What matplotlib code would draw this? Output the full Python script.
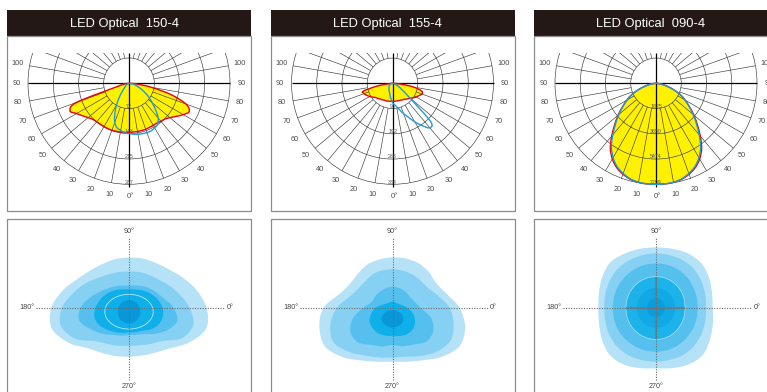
import numpy as np
import matplotlib
matplotlib.use("Agg")
import matplotlib.pyplot as plt
from matplotlib.path import Path
from matplotlib.patches import PathPatch, Rectangle, Circle
from matplotlib.collections import LineCollection

plt.rcParams['font.family'] = ['Liberation Sans', 'DejaVu Sans']

# ---------------- data ----------------
titles = ['LED Optical  150-4', 'LED Optical  155-4', 'LED Optical  090-4']

# vertical angle gamma (deg); negative = C180 / C270 side (left), positive = C0 / C90 side (right)
gamma = [-90, -85, -80, -75, -70, -65, -60, -55, -50, -45, -40, -35, -30, -25, -20, -15, -10, -5,
         0, 5, 10, 15, 20, 25, 30, 35, 40, 45, 50, 55, 60, 65, 70, 75, 80, 85, 90]

ring_values = [[72, 143, 215, 287], [96, 192, 288, 384], [1825, 3650, 5474, 7299]]
angle_labels = [10, 20, 30, 40, 50, 60, 70, 80, 90, 100]

# luminous intensity (cd), C0-180 plane (red, filled) and C90-270 plane (blue)
red_150 = [0, 9, 17, 32, 158, 185, 172, 161, 152, 145, 143, 142, 142, 142, 142, 141, 141, 140,
           139, 139, 139, 139, 139, 138, 138, 138, 141, 144, 152, 164, 178, 189, 172, 123, 63, 23, 0]
blue_150 = [0, 0, 1, 3, 4, 6, 7, 10, 13, 19, 29, 47, 70, 95, 118, 131, 136, 141,
            143, 145, 147, 148, 149, 149, 146, 142, 129, 107, 86, 69, 52, 37, 26, 17, 11, 6, 0]
red_155 = [0, 8, 58, 115, 115, 108, 100, 92, 84, 81, 77, 75, 73, 71, 71, 70, 69, 69,
           69, 69, 69, 69, 70, 71, 73, 75, 79, 83, 88, 96, 104, 111, 119, 115, 81, 31, 0]
blue_155 = [0, 2, 4, 6, 8, 10, 12, 15, 17, 19, 21, 23, 27, 31, 35, 40, 50, 61,
            73, 81, 90, 104, 123, 142, 169, 196, 221, 204, 84, 46, 31, 17, 10, 6, 3, 2, 0]
red_090 = [0, 183, 440, 840, 1355, 1940, 2420, 2950, 3570, 4220, 4980, 5750, 6310, 6720, 6990, 7180, 7270, 7299,
           7299, 7299, 7270, 7180, 6990, 6720, 6310, 5750, 4980, 4220, 3570, 2950, 2420, 1940, 1355, 840, 440, 183, 0]
blue_090 = [0, 182, 438, 839, 1350, 1934, 2409, 2920, 3504, 4124, 4854, 5620, 6204, 6642, 6934, 7153, 7263, 7299,
            7299, 7299, 7263, 7153, 6934, 6642, 6204, 5620, 4854, 4124, 3504, 2920, 2409, 1934, 1350, 839, 438, 182, 0]

# isolux outlines: radius at each direction (deg, 0 = right, 90 = up)
iso_angles = [0, 15, 30, 45, 60, 75, 90, 105, 120, 135, 150, 165,
              180, 195, 210, 225, 240, 255, 270, 285, 300, 315, 330, 345]

iso_150 = [
    [77.5, 69.6, 61.2, 54.9, 52, 51, 50, 50.5, 51, 53.4, 58.6, 68.1, 77.7, 80, 70, 57.6, 52.5, 50, 49, 49.5, 52, 57.5, 69.5, 80],
    [60.5, 52, 45.4, 40.5, 38.3, 37, 36, 37, 38.8, 42.5, 49.5, 57.5, 67, 70.5, 62, 47.3, 42, 39.5, 38, 39, 42, 47, 61, 66.5],
    [44.5, 36, 31, 28, 25, 23, 22, 23, 25, 27.8, 32.5, 40, 48.5, 51.3, 43.5, 37, 31.5, 29, 27.3, 28.2, 30.5, 37, 44.5, 50],
    [33.5, 30.2, 26.5, 23.3, 20.5, 19, 18.3, 19, 21, 23.5, 26.7, 30, 33.5, 35.8, 34.5, 31, 28.2, 26, 24.7, 25.3, 26.5, 30.7, 34, 35],
    [11.2, 11.3, 11.4, 11.5, 11.6, 11.6, 11.6, 11.6, 11.6, 11.5, 11.4, 11.3, 11.2, 11.3, 11.5, 11.6, 11.7, 11.8, 11.8, 11.8, 11.7, 11.6, 11.5, 11.3],
]
iso_150_line = [24.2, 23.5, 21.7, 19.9, 18.5, 17.6, 17.3, 17.6, 18.5, 19.9, 21.7, 23.5,
                24.2, 23.5, 21.7, 19.9, 18.5, 17.6, 17.3, 17.6, 18.5, 19.9, 21.7, 23.5]

iso_155 = [
    [67, 55.5, 50, 51, 51.5, 51, 50.3, 50, 50, 48.5, 48.7, 54.4, 69, 75.7, 77.8, 70, 61, 56, 54, 56, 60.7, 69.5, 77.3, 75.2],
    [57, 47, 40.3, 39, 38.6, 38.4, 38.3, 38.6, 38.8, 38, 39, 44, 55.6, 64.2, 68.5, 62.2, 55.2, 51.5, 49.7, 50.7, 55.8, 62.2, 66.7, 63.2],
    [28, 23, 20.6, 20.4, 20.5, 20.8, 21, 20.7, 20.4, 20.3, 20.8, 21.6, 29, 41, 48.4, 48.9, 42.9, 40, 37.3, 39.9, 42.5, 47.9, 47, 40],
    [14.7, 9.7, 7.4, 6.5, 6.1, 6.0, 6.0, 6.0, 6.1, 6.5, 7.9, 11, 17, 21.9, 26.6, 28.5, 29.4, 28.8, 28.3, 29.3, 30.2, 29.4, 26.1, 21.1],
    [10.8, 10.6, 10.1, 9.6, 9.1, 8.8, 8.7, 8.8, 9.1, 9.6, 10.1, 10.6, 10.8, 10.6, 10.1, 9.6, 9.1, 8.8, 8.9, 8.8, 9.1, 9.6, 10.1, 10.6],
]

iso_090 = [
    [56.7, 58, 61, 63.5, 63, 61, 60.3, 61, 62.5, 64.4, 62, 59, 57.7, 59, 62.5, 66, 65.5, 62.5, 60.7, 62.5, 65.5, 66.5, 62.5, 59],
    [50, 51, 52.5, 54, 54.5, 54.3, 54.3, 54.3, 54.5, 54.5, 53.5, 52.5, 51.7, 52.5, 54, 55, 55, 54.3, 54, 54, 54.5, 54, 52.5, 51],
    [41.7, 42, 42.5, 43.5, 44, 44.3, 44.3, 44.3, 44, 43.8, 43.5, 43.3, 43.3, 43.5, 43.8, 44, 44, 44, 44, 44, 43.5, 43, 42.5, 42],
    [29, 29.3, 29.8, 30.3, 30.7, 31, 31, 31, 30.8, 30.5, 30.3, 30.1, 30, 30.3, 30.7, 31, 31.3, 31.6, 31.7, 31.6, 31.2, 30.5, 29.8, 29.3],
    [19, 19, 19.2, 19.4, 19.6, 19.8, 19.8, 19.8, 19.6, 19.4, 19.2, 19, 19, 19.2, 19.4, 19.6, 19.8, 20, 20, 20, 19.8, 19.5, 19.2, 19],
    [9, 9, 9, 9.2, 9.3, 9.4, 9.4, 9.4, 9.3, 9.2, 9, 9, 9, 9, 9.2, 9.3, 9.4, 9.5, 9.5, 9.5, 9.4, 9.2, 9, 9],
]

# ---------------- styles / layout ----------------
W, H = 767, 392
panel_x0 = [7, 270.5, 534]
panel_w = 244
head_top, head_bot, upper_bot, lower_top = 10, 36, 211, 219
polar_cy = 83.3
R_px = 101
iso_cy = 307.7
clip_top_frac = 0.30
grid_step = 10

iso_colors_150 = ['#b5e2f7', '#86d0f3', '#55c0ee', '#0fb0ea', '#0a97da']
iso_colors_155 = ['#b5e2f7', '#86d0f3', '#55c0ee', '#0fb0ea', '#0a97da']
iso_colors_090 = ['#b5e2f7', '#86d0f3', '#55c0ee', '#1cb2ea', '#10a9e6', '#069edf']
iso_yoff_150 = [0, 0, 0, 0, -4]
iso_yoff_155 = [0, 0, 0, 0, -11]
iso_yoff_090 = [0, 0, 0, 0, 0, 0]

YELLOW = '#fff100'
RED = '#e60012'
BLUE = '#1c9cdb'
GRID = '#3a3a3a'
BOX = '#8c8c8c'
HEAD = '#231815'

fig = plt.figure(figsize=(W / 100, H / 100), dpi=100)
fig.patch.set_facecolor('white')


def px_axes(x0, y0, x1, y1):
    ax = fig.add_axes([x0 / W, 1 - y1 / H, (x1 - x0) / W, (y1 - y0) / H])
    ax.set_axis_off()
    ax.patch.set_visible(False)
    return ax


def smooth_path(P, closed):
    P = np.asarray(P, float)
    n = len(P)
    verts = [P[0]]
    codes = [Path.MOVETO]
    segs = n if closed else n - 1
    for i in range(segs):
        if closed:
            p0, p1, p2, p3 = P[i - 1], P[i], P[(i + 1) % n], P[(i + 2) % n]
        else:
            p0, p1, p2, p3 = P[max(i - 1, 0)], P[i], P[i + 1], P[min(i + 2, n - 1)]
        verts += [p1 + (p2 - p0) / 6.0, p2 - (p3 - p1) / 6.0, p2]
        codes += [Path.CURVE4] * 3
    if closed:
        verts.append(P[0])
        codes.append(Path.CLOSEPOLY)
    return Path(verts, codes)


# background: frames and headers
bg = fig.add_axes([0, 0, 1, 1])
bg.set_xlim(0, W)
bg.set_ylim(H, 0)
bg.set_axis_off()
for i, x0 in enumerate(panel_x0):
    bg.add_patch(Rectangle((x0, head_top), panel_w, head_bot - head_top, facecolor=HEAD, edgecolor='none'))
    bg.add_patch(Rectangle((x0, head_bot), panel_w, upper_bot - head_bot, facecolor='none', edgecolor=BOX, lw=0.9))
    bg.add_patch(Rectangle((x0, lower_top), panel_w, 200, facecolor='none', edgecolor=BOX, lw=0.9))
    bg.text(x0 + panel_w / 2 - 5, (head_top + head_bot) / 2 + 0.5, titles[i], color='white',
            fontsize=9.3, ha='center', va='center')

# ---------------- polar intensity diagrams ----------------
curves = [(red_150, blue_150), (red_155, blue_155), (red_090, blue_090)]
g = np.radians(np.array(gamma, float))

for i, x0 in enumerate(panel_x0):
    rings = ring_values[i]
    R = rings[-1]
    s = R / R_px
    ax = px_axes(x0, head_bot, x0 + panel_w, upper_bot)
    ax.set_xlim(-panel_w / 2 * s, panel_w / 2 * s)
    ax.set_ylim(-(upper_bot - polar_cy) * s, (polar_cy - head_bot) * s)

    clip = Rectangle((-3 * R, -3 * R), 6 * R, 3 * R + clip_top_frac * R, transform=ax.transData)

    red, blue = curves[i]
    red = np.array(red, float)
    blue = np.array(blue, float)
    red_pts = np.column_stack([red * np.sin(g), -red * np.cos(g)])
    blue_pts = np.column_stack([blue * np.sin(g), -blue * np.cos(g)])

    # yellow fill of C0-180 curve
    ax.add_patch(PathPatch(smooth_path(red_pts, True), facecolor=YELLOW, edgecolor='none', zorder=1))

    # grid rings
    for v in rings:
        c = Circle((0, 0), v, fill=False, edgecolor=GRID, lw=0.45, zorder=2)
        ax.add_patch(c)
        c.set_clip_path(clip)
    # radial lines from first ring to outer ring
    segs = []
    for a in range(0, 360, grid_step):
        if a % 90 == 0:
            continue
        ar = np.radians(a)
        segs.append([(rings[0] * np.sin(ar), -rings[0] * np.cos(ar)), (R * np.sin(ar), -R * np.cos(ar))])
    lc = LineCollection(segs, colors=GRID, linewidths=0.45, zorder=2)
    ax.add_collection(lc)
    lc.set_clip_path(clip)

    # main axes
    ax.plot([0, 0], [-1.03 * R, clip_top_frac * R], color='black', lw=0.9, zorder=3, solid_capstyle='butt')
    ax.plot([-R, R], [0, 0], color='black', lw=0.9, zorder=3, solid_capstyle='butt')

    # ring labels
    for v in rings:
        ax.text(0, -v + 0.022 * R, str(v), fontsize=3.8, color='#555555', ha='center', va='center', zorder=3.5)

    # angle labels
    for k in angle_labels:
        kr = np.radians(k)
        for sgn in (-1, 1):
            ax.text(sgn * 1.115 * R * np.sin(kr), -1.115 * R * np.cos(kr), str(k), fontsize=5.3,
                    color='#4d4d4d', ha='center', va='center', clip_on=False)
    ax.text(0.015 * R, -1.125 * R, '0°', fontsize=5.3, color='#4d4d4d', ha='center', va='center', clip_on=False)

    # curves
    ax.add_patch(PathPatch(smooth_path(red_pts, False), facecolor='none', edgecolor=RED, lw=1.0, zorder=4))
    ax.add_patch(PathPatch(smooth_path(blue_pts, False), facecolor='none', edgecolor=BLUE, lw=1.0, zorder=5))

# ---------------- isolux diagrams ----------------
iso_sets = [(iso_150, iso_colors_150, iso_yoff_150), (iso_155, iso_colors_155, iso_yoff_155),
            (iso_090, iso_colors_090, iso_yoff_090)]
phi = np.radians(np.array(iso_angles, float))

for i, x0 in enumerate(panel_x0):
    ax = px_axes(x0, lower_top, x0 + panel_w, H)
    ax.set_xlim(-panel_w / 2, panel_w / 2)
    ax.set_ylim(-(H - iso_cy), iso_cy - lower_top)
    levels, colors, yoff = iso_sets[i]
    for lev, col, dy in zip(levels, colors, yoff):
        r = np.array(lev, float)
        pts = np.column_stack([r * np.cos(phi), dy + r * np.sin(phi)])
        ax.add_patch(PathPatch(smooth_path(pts, True), facecolor=col, edgecolor='none', zorder=1))
    if i == 0:
        r = np.array(iso_150_line, float)
        pts = np.column_stack([r * np.cos(phi), -4 + r * np.sin(phi)])
        ax.add_patch(PathPatch(smooth_path(pts, True), facecolor='none', edgecolor='white', lw=0.6,
                               alpha=0.7, zorder=1.5))
    if i == 2:
        r = np.array(iso_090[3], float)
        pts = np.column_stack([r * np.cos(phi), r * np.sin(phi)])
        ax.add_patch(PathPatch(smooth_path(pts, True), facecolor='none', edgecolor='white', lw=0.5,
                               alpha=0.6, zorder=1.5))
        rr = iso_090[3]
        ax.plot([-rr[12], rr[0]], [0, 0], color='#7a7a7a', lw=1.5, alpha=0.75, zorder=2.5,
                solid_capstyle='butt')
        ax.plot([0, 0], [-rr[18], rr[6]], color='#7a7a7a', lw=1.5, alpha=0.75, zorder=2.5,
                solid_capstyle='butt')

    dot = dict(color='#6a6a6a', lw=0.8, linestyle=(0, (1, 1.3)), zorder=3)
    ax.plot([-93, 96], [0, 0], **dot)
    ax.plot([0, 0], [-72, 70.5], **dot)
    tk = dict(fontsize=5.2, color='#444444', ha='center', va='center', zorder=4)
    ax.text(0, 76, '90°', **tk)
    ax.text(0, -79.3, '270°', **tk)
    ax.text(-102, 0, '180°', **tk)
    ax.text(101, 0, '0°', **tk)

fig.savefig('out.png', dpi=100, facecolor='white')
